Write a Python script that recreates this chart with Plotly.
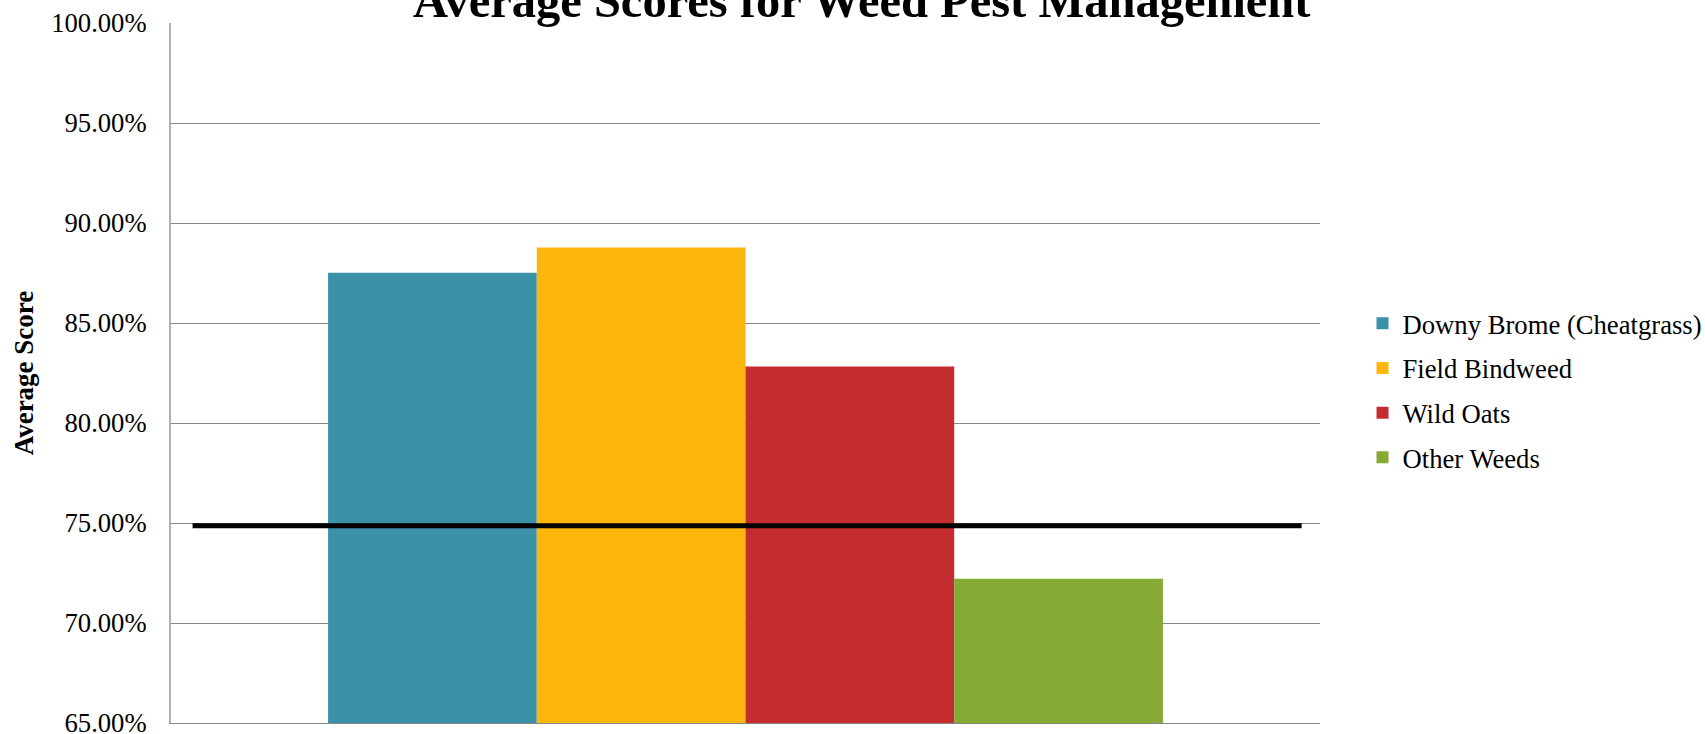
import plotly.graph_objects as go

# ---- data ----
series_names = ["Downy Brome (Cheatgrass)", "Field Bindweed", "Wild Oats", "Other Weeds"]
series_values = [0.8751, 0.8877, 0.8282, 0.7221]
benchmark_value = 0.7486
category = [""]
title_text = "Average Scores for Weed Pest Management"
y_title = "Average Score"
y_ticks = [0.65, 0.70, 0.75, 0.80, 0.85, 0.90, 0.95, 1.00]

colors = ["#3A91A8", "#FDB60C", "#C32D2F", "#85AA35"]
FONT = "Liberation Serif"

fig = go.Figure()
for i, (name, val) in enumerate(zip(series_names, series_values)):
    fig.add_trace(go.Bar(
        x=category, y=[val], name=name,
        marker=dict(color=colors[i], line=dict(width=0)),
        legendgroup=name,
    ))

# benchmark line
fig.add_shape(type="line", xref="paper", yref="y",
              x0=0.0188, x1=0.984, y0=benchmark_value, y1=benchmark_value,
              line=dict(color="black", width=5), layer="above")

fig.add_annotation(text="<b>" + title_text + "</b>", xref="paper", yref="paper",
                   x=0.601, y=1, xanchor="center", yanchor="bottom", yshift=-6,
                   showarrow=False, font=dict(family=FONT, size=48.5, color="black"))

fig.update_layout(
    width=1705, height=734,
    margin=dict(l=171, r=385, t=23, b=11, autoexpand=False),
    paper_bgcolor="white", plot_bgcolor="white",
    barmode="group", bargap=0.2734, bargroupgap=0,
    font=dict(family=FONT, size=26.67, color="black"),
    showlegend=True,
    legend=dict(x=1.037, xanchor="left", y=0.475, yanchor="middle",
                font=dict(family=FONT, size=26.67, color="black"),
                tracegroupgap=7, bgcolor="rgba(0,0,0,0)"),
)
fig.update_xaxes(showticklabels=False, showgrid=False, showline=True,
                 linecolor="#878787", linewidth=1, ticks="", zeroline=False)
fig.update_yaxes(range=[0.65, 1.0], tickvals=y_ticks, tickformat=".2%",
                 showgrid=True, gridcolor="#878787", gridwidth=1,
                 showline=True, linecolor="#B0B0B0", linewidth=2,
                 ticks="", zeroline=False, ticklabelstandoff=17,
                 ticklabeloverflow="allow",
                 tickfont=dict(family=FONT, size=26.67, color="black"),
                 title=dict(text="<b>" + y_title + "</b>", standoff=10,
                            font=dict(family=FONT, size=27, color="black")))

fig.write_html("out.html", config={"displayModeBar": False},
               post_script="document.body.style.margin='0';")
